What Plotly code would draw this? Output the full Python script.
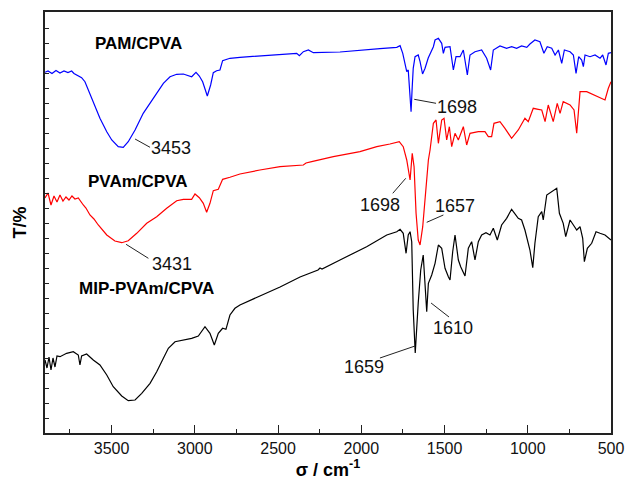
import plotly.graph_objects as go

# ---- data (wavenumber in cm-1, transmittance in arbitrary offset units) ----
pam_w = [3900, 3882, 3858, 3834, 3810, 3786, 3762, 3740, 3726, 3680, 3660, 3630, 3600, 3570, 3529, 3499,
         3460, 3430, 3400, 3359, 3310, 3269, 3229, 3189, 3149, 3109, 3069, 3019, 2993, 2973, 2953, 2925,
         2905, 2889, 2869, 2849, 2833, 2789, 2729, 2609, 2488, 2388, 2372, 2348, 2318, 2288, 2128, 2008,
         1888, 1787, 1767, 1751, 1737, 1727, 1718, 1707, 1701, 1694, 1688, 1677, 1658, 1647, 1632, 1617,
         1598, 1567, 1557, 1537, 1517, 1507, 1497, 1467, 1447, 1431, 1407, 1387, 1363, 1347, 1317, 1277,
         1247, 1223, 1207, 1167, 1127, 1097, 1067, 1037, 1006, 987, 957, 927, 903, 883, 856, 836, 816,
         796, 780, 746, 726, 710, 694, 676, 666, 656, 626, 596, 566, 550, 530, 516, 500]
pam_t = [360.7, 362, 359.5, 362.5, 360, 362, 360.5, 362, 359.5, 355.3, 351.3, 339.7, 328, 314.7, 301.3, 293,
         286.3, 285.7, 291.3, 303, 319.7, 329.7, 339.7, 349.7, 356.3, 358.7, 359, 356.3, 360.7, 357, 351.3, 337,
         348, 360.3, 362.3, 363, 372.3, 374.7, 375.7, 377, 378, 379.7, 377.3, 381.3, 383, 380.3, 381, 382.3,
         384.3, 385.7, 387.3, 379.7, 369.7, 361.3, 363, 336.3, 321.3, 346.3, 364.7, 376.3, 378, 371.3, 359, 364.7,
         375, 386.3, 393, 394.7, 389.7, 379.7, 385.7, 386.3, 363, 376.3, 376.3, 383, 358, 378, 381.3, 383,
         374.7, 363, 383, 387, 384.7, 386.3, 384.7, 387, 385.7, 389, 393, 391.3, 379.7, 386.3, 384.7, 378, 383,
         369.7, 383, 381.3, 378, 359.7, 376.3, 373, 366.3, 378, 376.3, 378, 374.7, 378, 368, 379.7, 380.3]

pvam_w = [3900, 3882, 3864, 3846, 3828, 3810, 3792, 3774, 3756, 3738, 3720, 3700, 3670, 3654, 3630, 3606,
          3580, 3529, 3480, 3439, 3400, 3349, 3289, 3229, 3169, 3109, 3069, 3019, 2999, 2973, 2949, 2929,
          2909, 2889, 2859, 2833, 2789, 2729, 2609, 2488, 2348, 2332, 2298, 2168, 2008, 1907, 1828, 1772,
          1748, 1727, 1707, 1694, 1683, 1671, 1658, 1647, 1631, 1611, 1597, 1587, 1577, 1567, 1551, 1537,
          1517, 1503, 1487, 1471, 1457, 1437, 1417, 1387, 1367, 1347, 1297, 1257, 1237, 1217, 1203, 1167,
          1137, 1097, 1057, 1017, 997, 967, 937, 916, 896, 877, 847, 823, 806, 787, 746, 722, 706, 686,
          646, 606, 556, 536, 516, 500]
pvam_t = [235, 240, 228, 237, 231, 238, 232, 236, 233, 237, 234, 235, 228, 225, 218, 214,
          208, 198, 192, 190.3, 192.3, 199.7, 209.7, 216.3, 224.7, 232.3, 233.7, 233.7, 239, 235.3, 229.7, 220.7,
          229.7, 242.3, 243.7, 253.7, 255.7, 259, 263, 266.3, 268, 270, 271.3, 276.3, 281.3, 286.3, 289, 291.3,
          286.3, 273, 253, 279.7, 266.3, 219.7, 193, 188, 206.3, 246.3, 273, 283, 299.7, 309.7, 313, 289.7,
          313, 314.7, 293, 306.3, 286.3, 299.7, 293, 306.3, 288, 299.7, 301.3, 301.3, 296.3, 296.3, 309.7, 311.3,
          304.7, 294.7, 303, 314.7, 311.3, 324.7, 323.7, 323, 311.3, 328, 311.3, 329.7, 319.7, 331.3, 328, 323, 299.7, 341.3,
          341.3, 338, 334.7, 333, 344.7, 351.3]

mip_w = [3900, 3888, 3876, 3864, 3852, 3840, 3828, 3810, 3770, 3730, 3700, 3690, 3680, 3650, 3610, 3570,
         3529, 3490, 3439, 3400, 3359, 3319, 3269, 3229, 3189, 3159, 3119, 3069, 3019, 2979, 2939, 2909,
         2883, 2859, 2833, 2813, 2789, 2759, 2729, 2609, 2488, 2368, 2260, 2248, 2236, 2128, 1968, 1847,
         1787, 1767, 1748, 1731, 1718, 1707, 1697, 1688, 1676, 1658, 1643, 1628, 1617, 1607, 1597, 1577,
         1557, 1537, 1517, 1507, 1497, 1477, 1467, 1451, 1437, 1417, 1403, 1377, 1357, 1337, 1317, 1297,
         1277, 1251, 1227, 1207, 1183, 1157, 1127, 1097, 1077, 1057, 1037, 1017, 987, 970, 957, 937, 916,
         907, 886, 856, 826, 810, 787, 772, 746, 726, 706, 686, 670, 660, 642, 616, 590, 566, 536, 500]
mip_t = [73, 65, 76, 63, 75, 66, 77, 76.3, 79.7, 81.3, 78, 68, 77, 79, 73, 68,
         58, 46.3, 37, 32.3, 33, 39.7, 49.7, 61.3, 74.7, 84.7, 91.3, 93, 94.7, 97, 106.3, 99.7,
         88, 99.7, 104.7, 103.7, 118, 124.7, 128, 137, 146, 156, 163, 165, 164, 173, 186.3, 198,
         201.3, 203.7, 199.7, 179.7, 198, 201.3, 191.3, 123, 80, 130, 163, 178, 153, 121.3, 149.7, 158,
         169.7, 188, 184.7, 176.3, 164.7, 156.3, 153, 181.3, 198, 173, 166.3, 157, 184.7, 191.3, 173, 191.3,
         198, 200.3, 198, 204.7, 193, 208, 214.7, 223.7, 219.7, 214.7, 213, 203, 183, 165.3, 189.7, 216.3, 221.3,
         213, 238, 241.3, 244.7, 219.7, 209.7, 196.3, 213, 208, 203, 206.3, 194.7, 171.3, 184.7, 189.7, 201.3, 199.7, 198, 193]

series_names = ["PAM/CPVA", "PVAm/CPVA", "MIP-PVAm/CPVA"]
series_colors = ["#0000FF", "#FF0000", "#000000"]

x_ticks = [3500, 3000, 2500, 2000, 1500, 1000, 500]

# series labels: (text, wavenumber, T)
name_labels = [("PAM/CPVA", 3341, 390), ("PVAm/CPVA", 3341, 252), ("MIP-PVAm/CPVA", 3293, 145)]
# peak labels: (text, label_w, label_T, line from (w0,T0) to (w1,T1))
peak_labels = [
    ("3453", 3143, 285, 3359, 294, 3269, 285.7),
    ("1698", 1425, 326, 1682, 333.7, 1551, 329.7),
    ("1698", 1888, 228, 1733, 254.7, 1811, 239.7),
    ("1657", 1437, 227, 1607, 210.7, 1507, 218),
    ("3431", 3137, 169, 3413, 188.7, 3279, 174.7),
    ("1610", 1449, 105, 1581, 130, 1473, 116),
    ("1659", 1984, 66, 1888, 75, 1677, 87),
]

FONT = "Liberation Sans, Arial, sans-serif"

fig = go.Figure()
for w, t, name, col in zip([pam_w, pvam_w, mip_w], [pam_t, pvam_t, mip_t], series_names, series_colors):
    fig.add_trace(go.Scatter(x=w, y=t, mode="lines", name=name,
                             line=dict(color=col, width=1.2), showlegend=False))

annotations = []
for text, w, t in name_labels:
    annotations.append(dict(x=w, y=t, xref="x", yref="y", text="<b>%s</b>" % text, showarrow=False,
                            font=dict(family=FONT, size=17, color="black")))
shapes = []
for text, w, t, w0, t0, w1, t1 in peak_labels:
    annotations.append(dict(x=w, y=t, xref="x", yref="y", text=text, showarrow=False,
                            font=dict(family=FONT, size=18, color="#111111")))
    shapes.append(dict(type="line", xref="x", yref="y", x0=w0, y0=t0, x1=w1, y1=t1,
                       line=dict(color="#222222", width=1)))

fig.update_layout(
    width=628, height=487,
    margin=dict(l=45, r=17, t=12, b=54, autoexpand=False),
    paper_bgcolor="white", plot_bgcolor="white",
    annotations=annotations, shapes=shapes,
    font=dict(family=FONT, color="black"),
)
fig.update_xaxes(
    range=[3900, 500], autorange=False, automargin=False,
    tickvals=x_ticks, ticktext=[str(v) for v in x_ticks],
    ticks="inside", ticklen=8, tickwidth=1.3, tickcolor="#222222",
    minor=dict(ticks="inside", ticklen=4, tickwidth=1.3, tickcolor="#222222", dtick=250, tick0=500, showgrid=False),
    showline=True, linewidth=1.5, linecolor="#222222", mirror=True,
    showgrid=False, zeroline=False,
    tickfont=dict(family=FONT, size=16, color="#111111"),
    title=dict(text="<b>σ / cm<sup>-1</sup></b>", font=dict(family=FONT, size=18, color="black"), standoff=6),
)
fig.update_yaxes(
    range=[0, 421], autorange=False, automargin=False,
    tick0=0, dtick=15, showticklabels=False,
    ticks="inside", ticklen=4, tickwidth=1.3, tickcolor="#222222",
    showline=True, linewidth=1.5, linecolor="#222222", mirror=True,
    showgrid=False, zeroline=False,
    title=dict(text="<b>T/%</b>", font=dict(family=FONT, size=18, color="black"), standoff=12),
)

fig.write_html("out.html")
